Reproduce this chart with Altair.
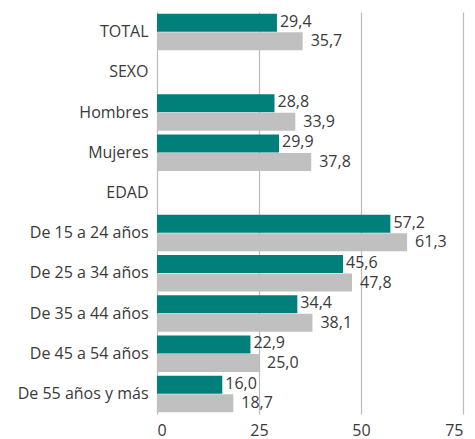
import altair as alt
import pandas as pd

categories = ["TOTAL", "SEXO", "Hombres", "Mujeres", "EDAD", "De 15 a 24 años",
              "De 25 a 34 años", "De 35 a 44 años", "De 45 a 54 años", "De 55 años y más"]
data_cats = ["TOTAL", "Hombres", "Mujeres", "De 15 a 24 años", "De 25 a 34 años",
             "De 35 a 44 años", "De 45 a 54 años", "De 55 años y más"]
serie_a = [29.4, 28.8, 29.9, 57.2, 45.6, 34.4, 22.9, 16.0]
serie_b = [35.7, 33.9, 37.8, 61.3, 47.8, 38.1, 25.0, 18.7]
series = ["A", "B"]
colors = ["#007F7B", "#C0C0C0"]

rows = []
for c, a, b in zip(data_cats, serie_a, serie_b):
    rows.append({"cat": c, "serie": "A", "v": a, "lab": f"{a:.1f}".replace(".", ",")})
    rows.append({"cat": c, "serie": "B", "v": b, "lab": f"{b:.1f}".replace(".", ",")})
df = pd.DataFrame(rows)

font = "Open Sans"
txt = "#3a3a3a"
y_enc = alt.Y("cat:N", scale=alt.Scale(domain=categories, paddingInner=0.08, paddingOuter=0.04),
              axis=alt.Axis(title=None, ticks=False, labelFontSize=16, labelColor=txt,
                            labelFont=font, labelPadding=9, domainColor="#BBBBBB", domainWidth=1,
                            grid=False))
x_enc = alt.X("v:Q", scale=alt.Scale(domain=[0, 75], nice=False),
              axis=alt.Axis(title=None, values=[0, 25, 50, 75], ticks=False, domain=False,
                            labelFontSize=16, labelColor=txt, labelFont=font,
                            labelPadding=8, gridColor="#BBBBBB", gridWidth=1.2, format="d"))

base = alt.Chart(df).encode(
    y=y_enc,
    yOffset=alt.YOffset("serie:N", scale=alt.Scale(domain=series)),
)

bars = base.mark_bar(size=18).encode(
    x=x_enc,
    color=alt.Color("serie:N", scale=alt.Scale(domain=series, range=colors), legend=None),
)

text_a = base.transform_filter(alt.datum.serie == "A").mark_text(
    align="left", baseline="middle", dx=3, dy=-1, fontSize=16, font=font, color=txt
).encode(x="v:Q", text="lab:N")

text_b = base.transform_filter(alt.datum.serie == "B").mark_text(
    align="left", baseline="middle", dx=8, dy=0, fontSize=16, font=font, color=txt
).encode(x="v:Q", text="lab:N")

chart = alt.layer(bars, text_a, text_b).properties(
    width=306, height=402,
    autosize=alt.AutoSizeParams(type="none"),
    padding={"left": 149, "top": 4, "right": 4, "bottom": 30},
).configure_view(stroke=None)

chart.save("out.html", embed_options={"renderer": "svg", "actions": False})
